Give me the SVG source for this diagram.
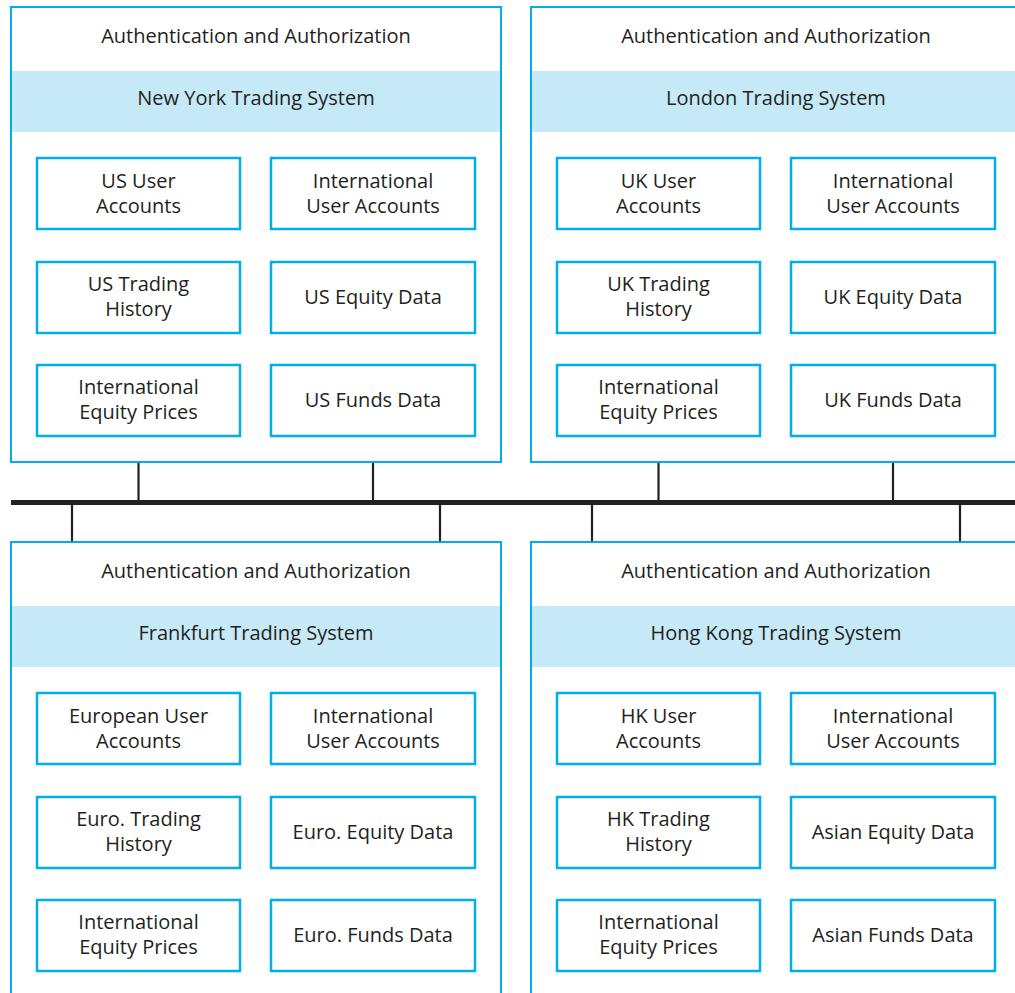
<svg xmlns="http://www.w3.org/2000/svg" width="1015" height="993" viewBox="0 0 1015 993">
<style>
.cont{fill:#fff;stroke:#00aeef;stroke-width:2}
.band{fill:#c6e9f8}
.box{fill:#fff;stroke:#00aeef;stroke-width:2.5}
text{font-family:"Open Sans","Liberation Sans",Arial,sans-serif;font-size:20px;fill:#231f20;text-anchor:middle}
.conn{stroke:#231f20;stroke-width:2.2;fill:none}
.bus{stroke:#231f20;stroke-width:5;fill:none}
</style>
<defs>
<g id="shell">
<rect class="cont" x="0" y="0" width="490" height="455"/>
<rect class="band" x="1" y="64" width="488" height="61"/>
<text x="245" y="36">Authentication and Authorization</text>
<rect class="box" x="26" y="151" width="203" height="71"/>
<rect class="box" x="260" y="151" width="204" height="71"/>
<rect class="box" x="26" y="255" width="203" height="71"/>
<rect class="box" x="260" y="255" width="204" height="71"/>
<rect class="box" x="26" y="358" width="203" height="71"/>
<rect class="box" x="260" y="358" width="204" height="71"/>
</g>
</defs>
<g id="connectors">
<line class="bus" x1="11" y1="502.5" x2="1015" y2="502.5"/>
<line class="conn" x1="138.5" y1="462" x2="138.5" y2="500"/>
<line class="conn" x1="373" y1="462" x2="373" y2="500"/>
<line class="conn" x1="658.5" y1="462" x2="658.5" y2="500"/>
<line class="conn" x1="893" y1="462" x2="893" y2="500"/>
<line class="conn" x1="72" y1="505" x2="72" y2="542"/>
<line class="conn" x1="440" y1="505" x2="440" y2="542"/>
<line class="conn" x1="592" y1="505" x2="592" y2="542"/>
<line class="conn" x1="960" y1="505" x2="960" y2="542"/>
</g>
<g id="ny" transform="translate(11,7)">
<use href="#shell"/>
<text x="245" y="98">New York Trading System</text>
<text x="127.5" y="181">US User</text><text x="127.5" y="206">Accounts</text>
<text x="362" y="181">International</text><text x="362" y="206">User Accounts</text>
<text x="127.5" y="284">US Trading</text><text x="127.5" y="309">History</text>
<text x="362" y="297">US Equity Data</text>
<text x="127.5" y="387">International</text><text x="127.5" y="412">Equity Prices</text>
<text x="362" y="400">US Funds Data</text>
</g>
<g id="london" transform="translate(531,7)">
<use href="#shell"/>
<text x="245" y="98">London Trading System</text>
<text x="127.5" y="181">UK User</text><text x="127.5" y="206">Accounts</text>
<text x="362" y="181">International</text><text x="362" y="206">User Accounts</text>
<text x="127.5" y="284">UK Trading</text><text x="127.5" y="309">History</text>
<text x="362" y="297">UK Equity Data</text>
<text x="127.5" y="387">International</text><text x="127.5" y="412">Equity Prices</text>
<text x="362" y="400">UK Funds Data</text>
</g>
<g id="frankfurt" transform="translate(11,542)">
<use href="#shell"/>
<text x="245" y="98">Frankfurt Trading System</text>
<text x="127.5" y="181">European User</text><text x="127.5" y="206">Accounts</text>
<text x="362" y="181">International</text><text x="362" y="206">User Accounts</text>
<text x="127.5" y="284">Euro. Trading</text><text x="127.5" y="309">History</text>
<text x="362" y="297">Euro. Equity Data</text>
<text x="127.5" y="387">International</text><text x="127.5" y="412">Equity Prices</text>
<text x="362" y="400">Euro. Funds Data</text>
</g>
<g id="hongkong" transform="translate(531,542)">
<use href="#shell"/>
<text x="245" y="98">Hong Kong Trading System</text>
<text x="127.5" y="181">HK User</text><text x="127.5" y="206">Accounts</text>
<text x="362" y="181">International</text><text x="362" y="206">User Accounts</text>
<text x="127.5" y="284">HK Trading</text><text x="127.5" y="309">History</text>
<text x="362" y="297">Asian Equity Data</text>
<text x="127.5" y="387">International</text><text x="127.5" y="412">Equity Prices</text>
<text x="362" y="400">Asian Funds Data</text>
</g>
</svg>
